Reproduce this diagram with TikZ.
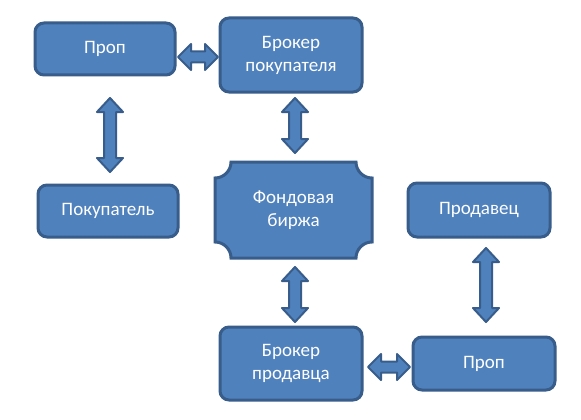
\documentclass[tikz,border=0pt]{standalone}
\usepackage{fontspec}
\setmainfont{Carlito}
\usetikzlibrary{calc}
\definecolor{boxfill}{HTML}{4F81BD}
\definecolor{boxline}{HTML}{385D8A}
\tikzset{
  txt/.style={text=white, align=center, font=\fontsize{19}{23}\selectfont,
    inner sep=0pt, outer sep=0pt},
  box/.style={txt, rectangle, rounded corners=9pt, fill=boxfill, draw=boxline,
    line width=3pt},
  blockarrow/.style={fill=boxfill, draw=boxline, line width=2pt, line join=round},
  plaquebox/.style={fill=boxfill, draw=boxline, line width=3pt}
}
% vertical double block arrow between named coordinates: top, bottom
\newcommand\varrow[2]{%
  \draw[blockarrow] (#1) -- ($(#1)+(13,14)$) -- ($(#1)+(6,14)$) -- ($(#2)+(6,-14)$)
    -- ($(#2)+(13,-14)$) -- (#2) -- ($(#2)+(-13,-14)$) -- ($(#2)+(-6,-14)$)
    -- ($(#1)+(-6,14)$) -- ($(#1)+(-13,14)$) -- cycle;}
% horizontal double block arrow between named coordinates: left, right
\newcommand\harrow[2]{%
  \draw[blockarrow] (#1) -- ($(#1)+(13,-13)$) -- ($(#1)+(13,-5.5)$) -- ($(#2)+(-13,-5.5)$)
    -- ($(#2)+(-13,-13)$) -- (#2) -- ($(#2)+(-13,13)$) -- ($(#2)+(-13,5.5)$)
    -- ($(#1)+(13,5.5)$) -- ($(#1)+(13,13)$) -- cycle;}
\begin{document}
\begin{tikzpicture}[x=1pt,y=-1pt]
\fill[white] (0,0) rectangle (581,420);
\useasboundingbox (0,0) rectangle (581,420);

% Фондовая биржа (plaque shape drawn around the node's box)
\node[txt, minimum width=157pt, minimum height=96pt] (fb) at (293.5,210) {};
\def\r{16}\def\c{8.8}
\draw[plaquebox] ($(fb.north west)+(\r,0)$) -- ($(fb.north east)+(-\r,0)$)
  .. controls ($(fb.north east)+(-\r,\c)$) and ($(fb.north east)+(-\c,\r)$) .. ($(fb.north east)+(0,\r)$)
  -- ($(fb.south east)+(0,-\r)$)
  .. controls ($(fb.south east)+(-\c,-\r)$) and ($(fb.south east)+(-\r,-\c)$) .. ($(fb.south east)+(-\r,0)$)
  -- ($(fb.south west)+(\r,0)$)
  .. controls ($(fb.south west)+(\r,-\c)$) and ($(fb.south west)+(\c,-\r)$) .. ($(fb.south west)+(0,-\r)$)
  -- ($(fb.north west)+(0,\r)$)
  .. controls ($(fb.north west)+(\c,\r)$) and ($(fb.north west)+(\r,\c)$) .. ($(fb.north west)+(\r,0)$)
  -- cycle;
\node[txt] at (fb.center) {Фондовая\\биржа};

\node[box, minimum width=140pt, minimum height=52pt] (prop1) at (105,49) {Проп};
\node[box, minimum width=142pt, minimum height=74pt] (bp) at (291,55) {Брокер\\покупателя};
\node[box, minimum width=140pt, minimum height=52pt] (pok) at (108,211) {Покупатель};
\node[box, minimum width=142pt, minimum height=54pt] (prod) at (479,210) {Продавец};
\node[box, minimum width=142pt, minimum height=73pt] (bpr) at (291,363.5) {Брокер\\продавца};
\node[box, minimum width=142pt, minimum height=53pt] (prop2) at (484,363.5) {Проп};

% arrow end points, placed relative to the nodes they join
\coordinate (a1) at ($(prop1.east)+(3,8)$);
\coordinate (a2) at ($(bp.west)+(-2,2)$);
\coordinate (b1) at ($(prop1.south)+(5,23)$);
\coordinate (b2) at ($(pok.north)+(2,-13)$);
\coordinate (c1) at ($(bp.south)+(4,6)$);
\coordinate (c2) at ($(fb.north)+(1.5,-9)$);
\coordinate (d1) at ($(fb.south)+(1.5,9)$);
\coordinate (d2) at ($(bpr.north)+(4,-5)$);
\coordinate (e1) at ($(prod.south)+(7,11)$);
\coordinate (e2) at ($(prop2.north)+(2,-15)$);
\coordinate (f1) at ($(bpr.east)+(6,3.5)$);
\coordinate (f2) at ($(prop2.west)+(-3,3.5)$);

\harrow{a1}{a2}
\varrow{b1}{b2}
\varrow{c1}{c2}
\varrow{d1}{d2}
\varrow{e1}{e2}
\harrow{f1}{f2}
\end{tikzpicture}
\end{document}
